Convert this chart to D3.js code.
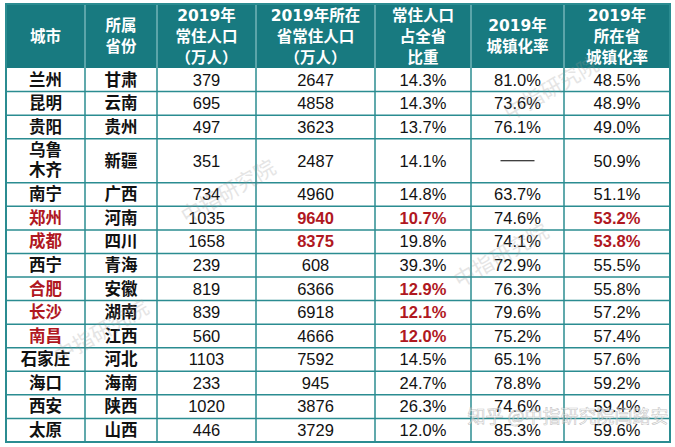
<!DOCTYPE html>
<html><head><meta charset="utf-8">
<script src="https://cdn.jsdelivr.net/npm/d3@7"></script>
<style>
html,body{margin:0;padding:0;background:#fff;}
svg{display:block;}
</style></head>
<body>
<script>
// ---- data ----
const headers = [
  ["城市"],
  ["所属","省份"],
  ["2019年","常住人口","（万人）"],
  ["2019年所在","省常住人口","（万人）"],
  ["常住人口","占全省","比重"],
  ["2019年","城镇化率"],
  ["2019年","所在省","城镇化率"]
];
const cities = ["兰州","昆明","贵阳","乌鲁木齐","南宁","郑州","成都","西宁","合肥","长沙","南昌","石家庄","海口","西安","太原"];
const provinces = ["甘肃","云南","贵州","新疆","广西","河南","四川","青海","安徽","湖南","江西","河北","海南","陕西","山西"];
const cityPop = [379,695,497,351,734,1035,1658,239,819,839,560,1103,233,1020,446];
const provPop = [2647,4858,3623,2487,4960,9640,8375,608,6366,6918,4666,7592,945,3876,3729];
const popShare = [14.3,14.3,13.7,14.1,14.8,10.7,19.8,39.3,12.9,12.1,12.0,14.5,24.7,26.3,12.0];
const cityUrban = [81.0,73.6,76.1,null,63.7,74.6,74.1,72.9,76.3,79.6,75.2,65.1,78.8,74.6,85.3];
const provUrban = [48.5,48.9,49.0,50.9,51.1,53.2,53.8,55.5,55.8,57.2,57.4,57.6,59.2,59.4,59.6];
const redCities = ["郑州","成都","合肥","长沙","南昌"];
const redProvPop = ["郑州","成都"];
const redShare = ["郑州","合肥","长沙","南昌"];
const redProvUrban = ["郑州","成都"];

// ---- layout ----
const W = 675, H = 447;
const colW = [79,72,99,119,96,93,106];
const tLeft = 6, tRight = 670, tTop = 4, headBottom = 68, tBottom = 442;
const RED = "#b0181f", TEAL = "#187a80", GRID = "#2b8c91";

const colEdges = [0]; colW.forEach(w => colEdges.push(colEdges[colEdges.length-1]+w));
const x = d3.scaleLinear().domain([0, colEdges[colEdges.length-1]]).range([tLeft, tRight]);

const rowUnits = cities.map(c => c.length > 3 ? 1.87 : 1);
const rowEdges = [0]; rowUnits.forEach(u => rowEdges.push(rowEdges[rowEdges.length-1]+u));
const y = d3.scaleLinear().domain([0, rowEdges[rowEdges.length-1]]).range([headBottom, tBottom]);

const fmtPct = v => v == null ? "" : v.toFixed(1) + "%";

const svg = d3.select("body").append("svg").attr("width", W).attr("height", H);

svg.append("rect").attr("x", tLeft).attr("y", tTop).attr("width", tRight-tLeft).attr("height", headBottom-tTop).attr("fill", TEAL);

const FONT_HEAD = "'DejaVu Sans', 'Noto Sans CJK SC', sans-serif";

headers.forEach((lines, i) => {
  const cx = (x(colEdges[i]) + x(colEdges[i+1]))/2;
  const cy = (tTop + headBottom)/2;
  const lh = 21;
  const t = svg.append("text").attr("text-anchor","middle").attr("fill","#fff")
    .attr("font-family", FONT_HEAD).attr("font-weight","bold").attr("font-size", 15.5);
  lines.forEach((ln, k) => {
    t.append("tspan").attr("x", cx).attr("y", cy + (k - (lines.length-1)/2)*lh + 5.5).text(ln);
  });
});

colEdges.slice(1,-1).forEach(e => {
  svg.append("line").attr("x1", x(e)).attr("x2", x(e)).attr("y1", tTop).attr("y2", headBottom)
    .attr("stroke", "#9fd0d3").attr("stroke-width", 1);
});

const rows = cities.map((c, i) => ({
  i,
  cells: [
    {t: c, red: redCities.includes(c), cjk: true},
    {t: provinces[i], red: false, cjk: true},
    {t: String(cityPop[i]), red: false},
    {t: String(provPop[i]), red: redProvPop.includes(c)},
    {t: fmtPct(popShare[i]), red: redShare.includes(c)},
    {t: fmtPct(cityUrban[i]), red: false, dash: cityUrban[i] == null},
    {t: fmtPct(provUrban[i]), red: redProvUrban.includes(c)}
  ]
}));

const g = svg.append("g");
rows.forEach(r => {
  const y0 = y(rowEdges[r.i]), y1 = y(rowEdges[r.i+1]);
  const cy = (y0 + y1)/2;
  r.cells.forEach((cell, j) => {
    const cx = (x(colEdges[j]) + x(colEdges[j+1]))/2;
    if (cell.dash) {
      g.append("line").attr("x1", cx-17).attr("x2", cx+17).attr("y1", cy).attr("y2", cy)
        .attr("stroke", "#000").attr("stroke-width", 1.2);
      return;
    }
    if (cell.cjk && cell.t.length > 3) {
      const t = g.append("text").attr("text-anchor","middle")
        .attr("font-family","'Noto Sans CJK SC', sans-serif").attr("font-weight","bold")
        .attr("font-size",16.5).attr("fill", cell.red ? RED : "#111");
      [cell.t.slice(0,2), cell.t.slice(2)].forEach((ln,k) => {
        t.append("tspan").attr("x", cx).attr("y", cy + (k-0.5)*20 + 5.5).text(ln);
      });
      return;
    }
    g.append("text").attr("x", cx).attr("y", cy + 5.8).attr("text-anchor","middle")
      .attr("font-family", cell.cjk ? "'Noto Sans CJK SC', sans-serif" : "'Liberation Sans', Arial, sans-serif")
      .attr("font-weight", cell.cjk ? "bold" : (cell.red ? "bold" : "normal"))
      .attr("font-size", cell.cjk ? 16.5 : 16.5)
      .attr("fill", cell.red ? RED : "#111")
      .text(cell.t);
  });
});

rowEdges.slice(1,-1).forEach(e => {
  svg.append("line").attr("x1", tLeft).attr("x2", tRight).attr("y1", y(e)).attr("y2", y(e))
    .attr("stroke", GRID).attr("stroke-width", 1.5);
});
colEdges.slice(1,-1).forEach(e => {
  svg.append("line").attr("x1", x(e)).attr("x2", x(e)).attr("y1", headBottom).attr("y2", tBottom)
    .attr("stroke", GRID).attr("stroke-width", 1.5);
});
svg.append("rect").attr("x", tLeft).attr("y", tTop).attr("width", tRight-tLeft).attr("height", tBottom-tTop)
  .attr("fill","none").attr("stroke", GRID).attr("stroke-width", 2);

const wm = [[555,95],[232,198],[505,262],[105,338]];
wm.forEach(([wx,wy]) => {
  svg.append("text").attr("transform", `translate(${wx},${wy}) rotate(-30)`)
    .attr("text-anchor","middle").attr("font-family","'Noto Sans CJK SC', sans-serif")
    .attr("font-size", 21).attr("fill", "#999").attr("opacity", 0.25).text("中指研究院");
});
svg.append("text").attr("x", 568).attr("y", 423).attr("text-anchor","middle")
  .attr("font-family","'Noto Sans CJK SC', sans-serif").attr("font-size", 18)
  .attr("fill", "#fff").attr("fill-opacity", 0.5).attr("stroke", "#888").attr("stroke-width", 0.6).attr("stroke-opacity",0.5)
  .text("知乎 @中指研究院闫路安");
</script>
</body></html>
